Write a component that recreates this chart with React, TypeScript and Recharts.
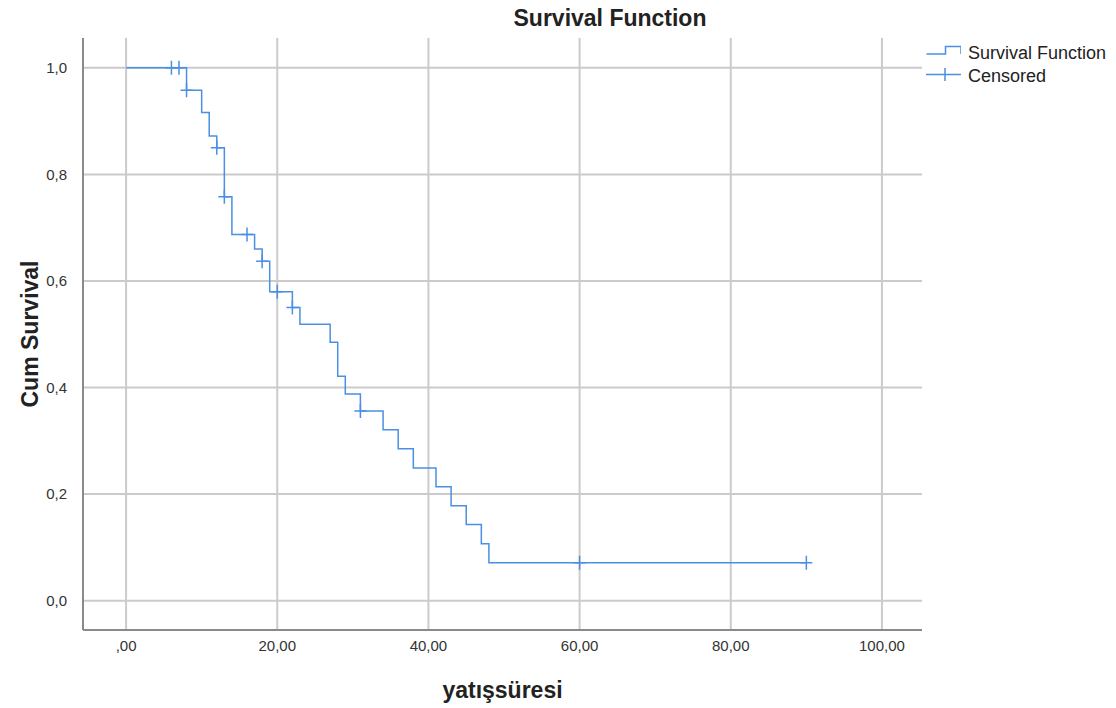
import {
  CartesianGrid,
  ComposedChart,
  Legend,
  Line,
  Scatter,
  XAxis,
  YAxis,
} from "recharts";

// Kaplan-Meier step: time of each drop and the survival after it
const eventTimes = [0, 8, 10, 11, 12, 13, 14, 17, 18, 19, 22, 23, 27, 28, 29, 31, 34, 36, 38, 41, 43, 45, 47, 48, 90];
const survival = [
  1.0, 0.958, 0.916, 0.872, 0.85, 0.758, 0.687, 0.66, 0.637, 0.58, 0.55, 0.519, 0.485, 0.421, 0.388, 0.356,
  0.321, 0.285, 0.249, 0.214, 0.178, 0.143, 0.107, 0.071, 0.071,
];

// censored cases
const censorTimes = [6, 7, 8, 12, 13, 16, 18, 20, 22, 31, 60, 90];
const censorSurvival = [1.0, 1.0, 0.958, 0.85, 0.758, 0.687, 0.637, 0.58, 0.55, 0.356, 0.071, 0.071];

const xTicks = [0, 20, 40, 60, 80, 100];
const yTicks = [0, 0.2, 0.4, 0.6, 0.8, 1.0];

const BLUE = "#4a8fe3";
const FONT = '"Liberation Sans", Arial, sans-serif';

const stepData = eventTimes.map((t, i) => ({ t, s: survival[i] }));
const censorData = censorTimes.map((t, i) => ({ t, s: censorSurvival[i] }));

const formatX = (v: number) => (v === 0 ? ",00" : v.toFixed(2).replace(".", ","));
const formatY = (v: number) => v.toFixed(1).replace(".", ",");

const PlusMark = (props: any) => {
  const { cx, cy } = props;
  return (
    <path
      d={`M${cx - 6},${cy}H${cx + 6}M${cx},${cy - 7}V${cy + 7}`}
      stroke={BLUE}
      strokeWidth={1.5}
      fill="none"
    />
  );
};

const renderLegend = () => (
  <div style={{ fontFamily: FONT, fontSize: 18, color: "#222", lineHeight: "23px" }}>
    <div style={{ display: "flex", height: 23 }}>
      <svg width={36} height={23}>
        <path d="M1.5,12H20.5V4.5H36V12" stroke={BLUE} strokeWidth={1.5} fill="none" />
      </svg>
      <span style={{ marginLeft: 7 }}>Survival Function</span>
    </div>
    <div style={{ display: "flex", height: 23 }}>
      <svg width={36} height={23}>
        <path d="M1,9.5H36M20,3V16" stroke={BLUE} strokeWidth={1.5} fill="none" />
      </svg>
      <span style={{ marginLeft: 7 }}>Censored</span>
    </div>
  </div>
);

const App = () => {
  return (
    <div
      style={{
        position: "absolute",
        left: 0,
        top: 0,
        width: 1116,
        height: 708,
        background: "#fff",
        fontFamily: FONT,
      }}
    >
      <div
        style={{
          position: "absolute",
          left: 410,
          top: 5,
          width: 400,
          textAlign: "center",
          fontSize: 23,
          fontWeight: "bold",
          lineHeight: "26px",
          color: "#222",
          zIndex: 1,
        }}
      >
        Survival Function
      </div>
      <ComposedChart width={1116} height={708} margin={{ top: 38, right: 194, bottom: 18, left: 0 }}>
        <CartesianGrid stroke="#cbcbcb" strokeWidth={2} syncWithTicks />
        <XAxis
          type="number"
          dataKey="t"
          domain={[-5.7, 105.3]}
          ticks={xTicks}
          allowDataOverflow
          tickFormatter={formatX}
          tickLine={false}
          tickSize={0}
          tickMargin={10}
          height={60}
          axisLine={{ stroke: "#8a8a8a", strokeWidth: 2 }}
          tick={{ fontSize: 15, fill: "#333", fontFamily: FONT }}
          label={{
            content: (p: any) => {
              const vb = p.viewBox;
              return (
                <text
                  x={vb.x + vb.width / 2}
                  y={698}
                  textAnchor="middle"
                  fontSize={23}
                  fontWeight="bold"
                  fill="#222"
                  fontFamily={FONT}
                >
                  yatışsüresi
                </text>
              );
            },
          }}
        />
        <YAxis
          type="number"
          dataKey="s"
          domain={[-0.055, 1.056]}
          ticks={yTicks}
          allowDataOverflow
          tickFormatter={formatY}
          tickLine={false}
          tickSize={0}
          tickMargin={16}
          width={83}
          axisLine={{ stroke: "#8a8a8a", strokeWidth: 2 }}
          tick={{ fontSize: 15, fill: "#333", fontFamily: FONT }}
          label={{
            content: (p: any) => {
              const vb = p.viewBox;
              const cy = vb.y + vb.height / 2;
              return (
                <text
                  x={38}
                  y={cy}
                  transform={`rotate(-90 38 ${cy})`}
                  textAnchor="middle"
                  fontSize={23}
                  fontWeight="bold"
                  fill="#222"
                  fontFamily={FONT}
                >
                  Cum Survival
                </text>
              );
            },
          }}
        />
        <Legend
          layout="vertical"
          align="center"
          verticalAlign="middle"
          content={renderLegend}
          wrapperStyle={{ left: 925, top: 42, width: 191 }}
        />
        <Line
          data={stepData}
          dataKey="s"
          type="stepAfter"
          stroke={BLUE}
          strokeWidth={1.5}
          dot={false}
          activeDot={false}
          isAnimationActive={false}
        />
        <Scatter data={censorData} dataKey="s" shape={PlusMark} isAnimationActive={false} />
      </ComposedChart>
    </div>
  );
};

export default App;
